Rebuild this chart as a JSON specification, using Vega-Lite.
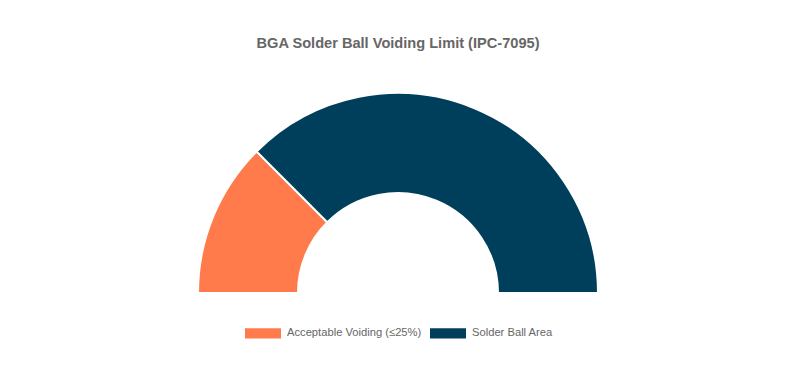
{
  "$schema": "https://vega.github.io/schema/vega-lite/v6.json",
  "width": 796,
  "height": 34,
  "autosize": {"type": "none"},
  "padding": {"top": 276, "left": 0, "right": 4, "bottom": 56},
  "background": "white",
  "title": {
    "text": "BGA Solder Ball Voiding Limit (IPC-7095)",
    "font": "Liberation Sans",
    "fontSize": 14.6,
    "fontWeight": "bold",
    "color": "#666666",
    "anchor": "middle",
    "frame": "group",
    "baseline": "bottom",
    "offset": 23
  },
  "data": {
    "values": [
      {"category": "Acceptable Voiding (≤25%)", "value": 25, "idx": 1},
      {"category": "Solder Ball Area", "value": 75, "idx": 2}
    ]
  },
  "mark": {"type": "arc", "radius": 200, "radius2": 100, "stroke": "white", "strokeWidth": 2},
  "encoding": {
    "theta": {
      "field": "value",
      "type": "quantitative",
      "stack": true,
      "scale": {"range": [-1.5707963, 1.5707963]}
    },
    "order": {"field": "idx", "type": "quantitative"},
    "color": {
      "field": "category",
      "type": "nominal",
      "sort": ["Acceptable Voiding (≤25%)", "Solder Ball Area"],
      "scale": {"domain": ["Acceptable Voiding (≤25%)", "Solder Ball Area"], "range": ["#ff7b4b", "#003f5c"]},
      "legend": {
        "title": null,
        "orient": "none",
        "legendX": 245,
        "legendY": 39,
        "direction": "horizontal",
        "symbolType": "M-1,-0.28H1V0.28H-1Z",
        "symbolSize": 1296,
        "symbolStrokeWidth": 0,
        "labelFont": "Liberation Sans",
        "labelFontSize": 11.2,
        "labelColor": "#666666",
        "labelOffset": 6,
        "columnPadding": 8
      }
    }
  },
  "config": {"view": {"stroke": null}}
}
